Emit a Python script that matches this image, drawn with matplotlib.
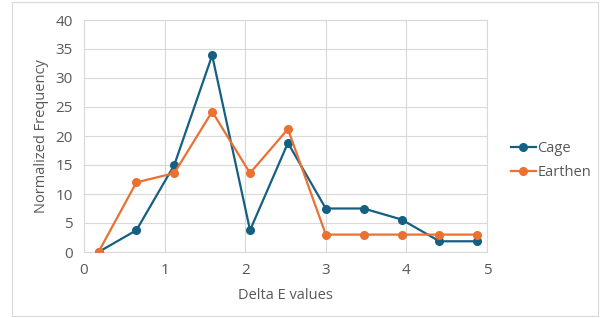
import matplotlib.pyplot as plt
from matplotlib.patches import Rectangle

delta_e = [0.18, 0.65, 1.12, 1.59, 2.06, 2.53, 3.0, 3.47, 3.94, 4.41, 4.88]
cage = [0, 3.75, 15.0, 33.9, 3.75, 18.8, 7.5, 7.5, 5.6, 1.85, 1.85]
earthen = [0, 12.0, 13.6, 24.2, 13.6, 21.2, 3.0, 3.0, 3.0, 3.0, 3.0]

plt.rcParams['font.family'] = ['Open Sans', 'DejaVu Sans']
text_color = '#595959'
grid_color = '#d9d9d9'

fig = plt.figure(figsize=(6.08, 3.18), dpi=100)
fig.patches.append(Rectangle((12 / 608, 2 / 318), 586 / 608, 314 / 318,
                             transform=fig.transFigure, fill=False,
                             edgecolor='#d9d9d9', linewidth=0.8))
ax = fig.add_axes([84 / 608, 66 / 318, 403 / 608, 232 / 318])

ax.plot(delta_e, cage, color='#156082', marker='o', markersize=5.5,
        linewidth=1.6, label='Cage', zorder=3)
ax.plot(delta_e, earthen, color='#E97132', marker='o', markersize=5.5,
        linewidth=1.6, label='Earthen', zorder=3)

ax.set_xlim(0, 5)
ax.set_ylim(0, 40)
ax.set_xticks(range(0, 6))
ax.set_yticks(range(0, 41, 5))
ax.grid(True, color=grid_color, linewidth=0.8)
for side in ['top', 'right', 'left', 'bottom']:
    ax.spines[side].set_color(grid_color)
    ax.spines[side].set_linewidth(0.8)
ax.tick_params(length=0, labelsize=11, colors=text_color, pad=8)
ax.set_xlabel('Delta E values', fontsize=10.5, color=text_color, labelpad=7)
ax.set_ylabel('Normalized Frequency', fontsize=10.5, color=text_color, labelpad=5)

ax.legend(loc='center left', bbox_to_anchor=(1.045, 0.395), frameon=False,
          fontsize=10.5, labelcolor=text_color, handlelength=1.7,
          handletextpad=0.1, labelspacing=0.6, borderaxespad=0)

fig.savefig('out.png', dpi=100)
